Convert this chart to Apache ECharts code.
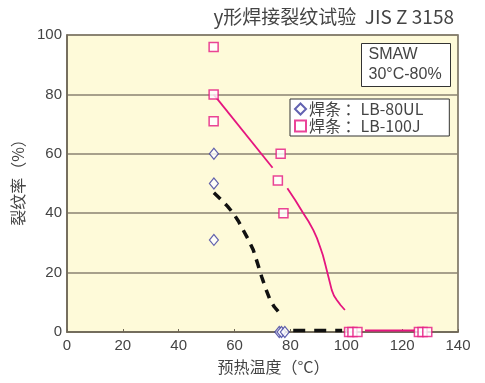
<!DOCTYPE html>
<html><head><meta charset="utf-8">
<script src="https://cdn.jsdelivr.net/npm/echarts@6/dist/echarts.min.js"></script>
<style>html,body{margin:0;padding:0;background:#fff}#c{width:485px;height:383px}</style>
</head><body><div id="c"></div>
<script>
var titleText = 'y形焊接裂纹试验  JIS Z 3158';
var xName = '预热温度（°C）';
var yName = '裂纹率（%）';
var noteLines = ['SMAW', '30°C-80%'];
var name80 = '焊条 ：LB-80UL';
var name100 = '焊条 ：LB-100J';
var xTicks = [0, 20, 40, 60, 80, 100, 120, 140];
var yTicks = [0, 20, 40, 60, 80, 100];

var pts80 = [[52.6, 60], [52.6, 50], [52.6, 31], [76, 0], [76.8, 0], [78, 0]];
var pts100 = [[52.5, 96], [52.5, 80], [52.5, 71], [76.5, 60], [75.5, 51], [77.5, 40],
  [101, 0], [102.2, 0], [104, 0], [126, 0], [127.3, 0], [129, 0]];
var curve80a = [[52.6, 46.9], [55.4, 44.4], [57.5, 42.3], [59.5, 40], [61.4, 37.3], [63.1, 34.3], [65, 31], [66.7, 27.6], [68.2, 23.2], [69.7, 18.6], [71.2, 14.5], [72.7, 10.8], [74.2, 8.5], [75.7, 6.8]];
var curve80b = [[81, 0.5], [98.5, 0.5]];
var curve100a = [[52.5, 80], [73.6, 55.3]];
var curve100b = [[78.9, 48.4], [81.8, 44.3], [84.6, 40], [86.5, 37.2], [88.2, 34.3], [89.5, 31.6], [90.6, 28.7], [91.6, 25.9], [92.4, 23.1], [93.6, 18.6], [94.8, 14.1], [95.6, 12.2], [96.6, 10.8], [98, 9], [99.5, 7.4]];
var curve100c = [[106.7, 0.5], [124.6, 0.5]];

var BLUE = '#3b3b9e', PINK = '#e5157f', TXT = '#444';
var FONT = 'Liberation Sans';
var CJK = 'Noto Sans CJK SC';
var chart = echarts.init(document.getElementById('c'));
function lineS(d, color, width, type, smooth) {
  return {type: 'line', data: d, showSymbol: false, symbol: 'none', smooth: smooth, silent: true,
    lineStyle: {color: color, width: width, type: type, cap: 'butt', join: 'round'}, z: 2};
}
chart.setOption({
  animation: false,
  title: {text: titleText, right: 26, top: 2, textStyle: {fontSize: 19, fontWeight: 'normal', color: TXT, fontFamily: CJK}},
  grid: {left: 67, right: 27, top: 35, bottom: 51, show: true, backgroundColor: '#fefad9', borderColor: '#6e6656', borderWidth: 1.5},
  xAxis: {type: 'value', min: 0, max: 140, interval: 20, name: xName, nameLocation: 'middle', nameGap: 27,
    nameTextStyle: {fontSize: 16, color: TXT, fontFamily: CJK, padding: [0, 0, 0, 22]},
    axisLine: {show: true, lineStyle: {color: '#6e6656', width: 1.5}},
    axisTick: {show: true, inside: true, length: 3, lineStyle: {color: '#6e6656'}},
    axisLabel: {fontSize: 15, color: TXT, margin: 6, fontFamily: FONT},
    splitLine: {show: false}},
  yAxis: {type: 'value', min: 0, max: 100, interval: 20, name: yName, nameLocation: 'middle', nameGap: 34,
    nameTextStyle: {fontSize: 16, color: TXT, fontFamily: CJK, padding: [0, 0, 0, 10]},
    axisLine: {show: true, lineStyle: {color: '#6e6656', width: 1.5}},
    axisTick: {show: false},
    axisLabel: {fontSize: 15, color: TXT, margin: 5, fontFamily: FONT},
    splitLine: {show: true, lineStyle: {color: '#8a8270', width: 1.5}}},
  legend: {data: [name80, name100], orient: 'vertical', left: 290, top: 99,
    backgroundColor: '#fff', borderColor: '#333', borderWidth: 1, padding: [2, 26, 2, 4], itemGap: 1,
    itemWidth: 11, itemHeight: 11, textStyle: {fontSize: 16, color: TXT, fontFamily: CJK, padding: [0, 0, 0, -2]}},
  graphic: [{type: 'group', left: 361, top: 43, children: [
    {type: 'rect', shape: {x: 0, y: 0, width: 89, height: 43}, style: {fill: '#fff', stroke: '#333', lineWidth: 1}},
    {type: 'text', x: 7, y: 3, style: {text: noteLines[0], fontSize: 16, fill: TXT, fontFamily: FONT}},
    {type: 'text', x: 7, y: 23, style: {text: noteLines[1], fontSize: 16, fill: TXT, fontFamily: FONT}}
  ]}],
  series: [
    lineS(curve80a, '#111', 3.5, [9, 7], false),
    lineS(curve80b, '#111', 3.5, [12, 9], false),
    lineS(curve100a, PINK, 1.8, 'solid', false),
    lineS(curve100b, PINK, 1.8, 'solid', false),
    lineS(curve100c, PINK, 1.8, 'solid', false),
    {type: 'scatter', name: name80, data: pts80, symbol: 'diamond', symbolSize: [9, 11], z: 3,
      itemStyle: {color: '#fff', borderColor: BLUE, borderWidth: 1.2}},
    {type: 'scatter', name: name100, data: pts100, symbol: 'rect', symbolSize: 9, z: 3,
      itemStyle: {color: '#fff', borderColor: PINK, borderWidth: 1.5}}
  ]
});
</script></body></html>
